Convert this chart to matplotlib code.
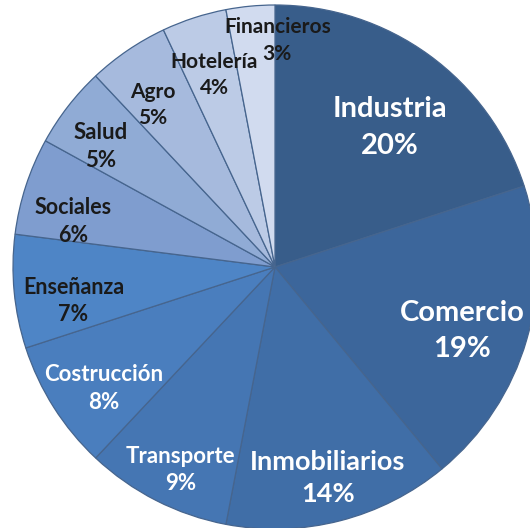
import matplotlib.pyplot as plt
import numpy as np

sectores = ["Industria", "Comercio", "Inmobiliarios", "Transporte", "Costrucción",
            "Enseñanza", "Sociales", "Salud", "Agro", "Hotelería", "Financieros"]
porcentajes = [20, 19, 14, 9, 8, 7, 6, 5, 5, 4, 3]

colores = ["#385d8a", "#3c669b", "#406ea7", "#4576b3", "#4a7ebe", "#4e85c6",
           "#7f9dcf", "#90abd5", "#a6badd", "#bccbe6", "#d1dbef"]
color_texto = ["white"] * 5 + ["#1a1a1a"] * 6
tam_texto = [21, 21, 19.5, 16, 16, 15.5, 15.5, 16, 15, 15, 15]
# label placement: radius fraction and angle offset (deg) from slice middle
radio_etiqueta = [0.69, 0.755, 0.83, 0.855, 0.80, 0.78, 0.79, 0.81, 0.775, 0.77, 0.865]
giro_etiqueta = [-3.6, -2.7, -0.4, 2, 3, 4.2, 5.4, 3.1, 2.8, -0.4, -6]

fig = plt.figure(figsize=(5.30, 5.28), dpi=100)
ax = fig.add_axes([0, 0, 1, 1])

# pixel-like coords, origin bottom-left
cx, cy, R = 275, 261, 262
wedges, _ = ax.pie(porcentajes, colors=colores, startangle=90, counterclock=False,
                   center=(cx, cy), radius=R,
                   wedgeprops=dict(edgecolor="#46658e", linewidth=0.9))

for i, w in enumerate(wedges):
    ang = np.deg2rad((w.theta1 + w.theta2) / 2 + giro_etiqueta[i])
    r = radio_etiqueta[i] * R
    ax.text(cx + r * np.cos(ang), cy + r * np.sin(ang),
            f"{sectores[i]}\n{porcentajes[i]}%", ha="center", va="center",
            color=color_texto[i], fontsize=tam_texto[i], fontweight="bold",
            family="Lato", linespacing=1.5 if tam_texto[i] > 20 else 1.4)

ax.set_xlim(0, 530)
ax.set_ylim(0, 528)
ax.set_aspect("equal")
ax.axis("off")

fig.savefig("out.png", dpi=100)
